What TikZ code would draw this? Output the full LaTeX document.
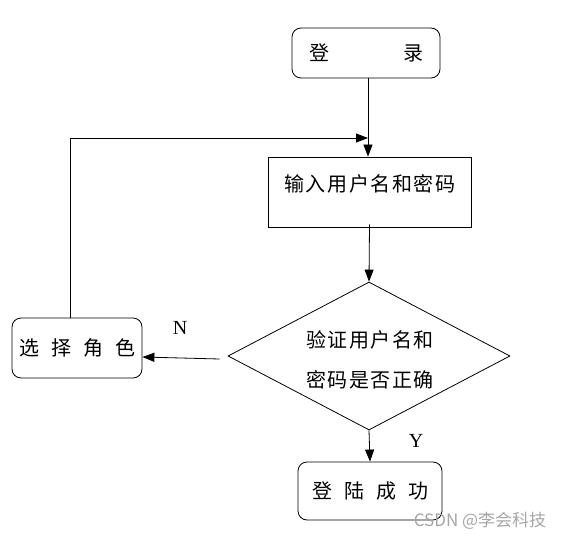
\documentclass[tikz,border=0pt]{standalone}
\usepackage{fontspec}
\setmainfont{Liberation Serif}
\newfontfamily\cjk{Noto Sans CJK SC}
\usetikzlibrary{arrows.meta,shapes.geometric}
\begin{document}
\begin{tikzpicture}[x=1pt,y=-1pt,
  rbox/.style={draw,rounded corners=9pt,line width=0.8pt,inner sep=0pt},
  sbox/.style={draw,line width=0.8pt,inner sep=0pt},
  cjktext/.style={font=\cjk\fontsize{20}{22}\selectfont},
  cjkspaced/.style={font=\cjk\fontsize{20}{40}\selectfont\addfontfeature{LetterSpace=8}},
  conn/.style={line width=0.8pt,-{Triangle[length=12pt,width=9pt]}},
  latin/.style={font=\fontsize{20}{22}\selectfont},
  ]
\useasboundingbox (0,0) rectangle (564,540);
% nodes
\node[rbox,cjktext,minimum width=148pt,minimum height=50pt] (login) at (366,53) {登\hspace{74pt}录};
\node[sbox,minimum width=203pt,minimum height=70pt] (input) at (369.5,192) {};
\node[cjkspaced] (intext) at (370,184) {输入用户名和密码};
\node[diamond,draw,line width=0.8pt,minimum width=282pt,minimum height=148pt,inner sep=0pt] (dia) at (369,356) {};
\node[cjkspaced,align=center] (diatext) at (370,360) {验证用户名和\\密码是否正确};
\node[rbox,cjktext,minimum width=130pt,minimum height=60pt] (select) at (77,348) {选\hspace{12pt}择\hspace{12pt}角\hspace{12pt}色};
\node[rbox,cjktext,minimum width=144pt,minimum height=58pt] (success) at (370,491) {登\hspace{12pt}陆\hspace{12pt}成\hspace{12pt}功};
\node[latin] (nlab) at (180,328) {N};
\node[latin] (ylab) at (416,441) {Y};
\node[text=black!35,font=\cjk\fontsize{17}{19}\selectfont] (wm) at (480,521) {CSDN @李会科技};
% connectors
\coordinate (corner) at (70,138);
\coordinate (tip) at (368,138);
\draw[conn] (login.south -| tip) -- (input.north -| tip);
\draw[conn] ([xshift=-7pt]select.north) -- (corner) -- (tip);
\draw[conn] ([yshift=3pt]input.south) -- (dia.north);
\draw[conn] ([xshift=-8pt,yshift=-3pt]dia.west) -- ([yshift=-1pt]select.east |- dia.west);
\draw[conn] (dia.south) -- (success.north);
\end{tikzpicture}
\end{document}
